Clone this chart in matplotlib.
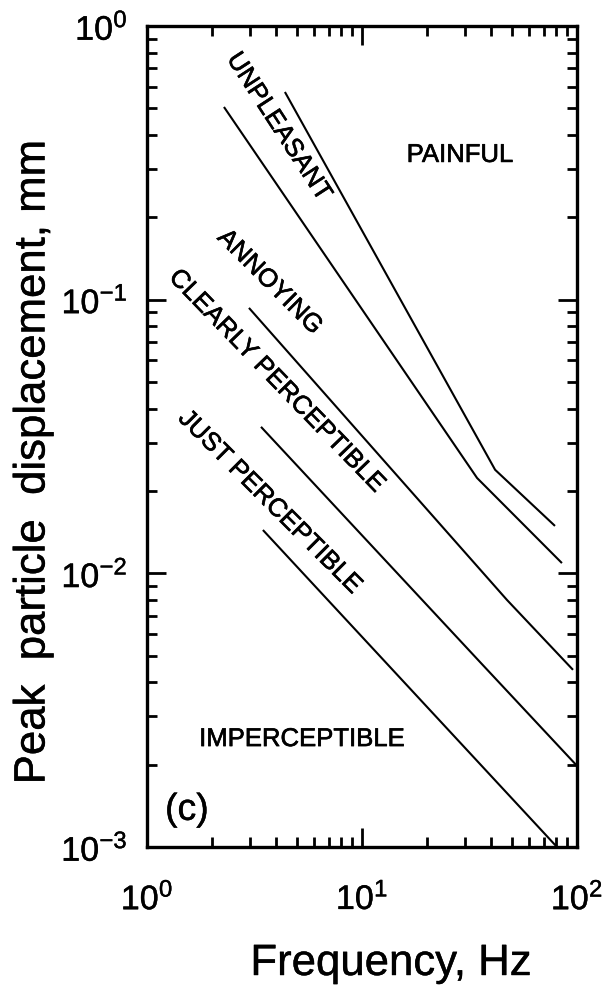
import matplotlib
matplotlib.use("Agg")
import matplotlib.pyplot as plt
import matplotlib.patheffects as pe
from matplotlib.ticker import LogLocator, LogFormatterMathtext, NullFormatter

plt.rcParams['font.family'] = ['Liberation Sans', 'DejaVu Sans']
plt.rcParams['axes.unicode_minus'] = False
plt.rcParams['mathtext.fontset'] = 'custom'
plt.rcParams['mathtext.rm'] = 'Liberation Sans'

# ---- data ----
freq_painful = [4.38, 41.6, 79.0]
disp_painful = [0.574, 0.0239, 0.0149]

freq_unpleasant = [2.28, 34.3, 85.1]
disp_unpleasant = [0.506, 0.0223, 0.0109]

freq_annoying = [2.98, 47.2, 95.8]
disp_annoying = [0.0933, 0.0080, 0.00444]

freq_clearly = [3.39, 35.4, 100.0]
disp_clearly = [0.0343, 0.00474, 0.00198]

freq_just = [3.46, 80.7]
disp_just = [0.0144, 0.001]

zone_labels = ["UNPLEASANT", "ANNOYING", "CLEARLY PERCEPTIBLE", "JUST PERCEPTIBLE"]
zone_x = [4.11, 3.73, 4.02, 3.73]
zone_y = [0.428, 0.116, 0.0505, 0.01823]
zone_rot = [-57, -45, -46, -45]

inner = [pe.withStroke(linewidth=0.45, foreground='black')]
light = [pe.withStroke(linewidth=0.3, foreground='black')]

fig = plt.figure(figsize=(6.08, 9.90), dpi=100)
ax = fig.add_axes([147/608, 1-847/990, 430/608, 821/990])

lw = 1.5
for f, d in [(freq_painful, disp_painful), (freq_unpleasant, disp_unpleasant),
             (freq_annoying, disp_annoying), (freq_clearly, disp_clearly),
             (freq_just, disp_just)]:
    ax.plot(f, d, color='black', lw=lw, solid_capstyle='butt')

ax.set_xscale('log')
ax.set_yscale('log')
ax.set_xlim(1, 100)
ax.set_ylim(1e-3, 1)

for s in ax.spines.values():
    s.set_linewidth(2.4)

ax.xaxis.set_major_locator(LogLocator(base=10, numticks=10))
ax.yaxis.set_major_locator(LogLocator(base=10, numticks=10))
ax.xaxis.set_minor_locator(LogLocator(base=10, subs=range(2, 10), numticks=20))
ax.yaxis.set_minor_locator(LogLocator(base=10, subs=range(2, 10), numticks=20))
ax.xaxis.set_major_formatter(LogFormatterMathtext())
ax.yaxis.set_major_formatter(LogFormatterMathtext())
ax.xaxis.set_minor_formatter(NullFormatter())
ax.yaxis.set_minor_formatter(NullFormatter())

ax.tick_params(which='both', direction='in', top=True, right=True, width=2.0)
ax.tick_params(which='major', length=14, labelsize=24.5)
ax.tick_params(which='minor', length=7.5)
ax.tick_params(axis='x', which='major', pad=25)
ax.tick_params(axis='y', which='major', pad=14)
for t in ax.get_xticklabels() + ax.get_yticklabels():
    t.set_path_effects(light)

for lab, x, y, r in zip(zone_labels, zone_x, zone_y, zone_rot):
    ax.text(x, y, lab, rotation=r, rotation_mode='anchor', ha='center', va='center',
            fontsize=18.5, path_effects=inner)

ax.text(28.6, 0.338, "PAINFUL", ha='center', va='center', fontsize=18.5, path_effects=inner)
ax.text(5.26, 0.00248, "IMPERCEPTIBLE", ha='center', va='center', fontsize=18.5,
        path_effects=inner)
ax.text(1.535, 0.001367, "(c)", ha='center', va='center', fontsize=27, path_effects=light)

fig.text(391/608, 1-975/990, "Frequency, Hz", ha='center', va='baseline', fontsize=31.5,
         path_effects=light)
fig.text(33/608, 1-462/990, "Peak  particle  displacement, mm", rotation=90,
         ha='center', va='center', fontsize=31.5, path_effects=light)

fig.savefig("out.png", dpi=100)
